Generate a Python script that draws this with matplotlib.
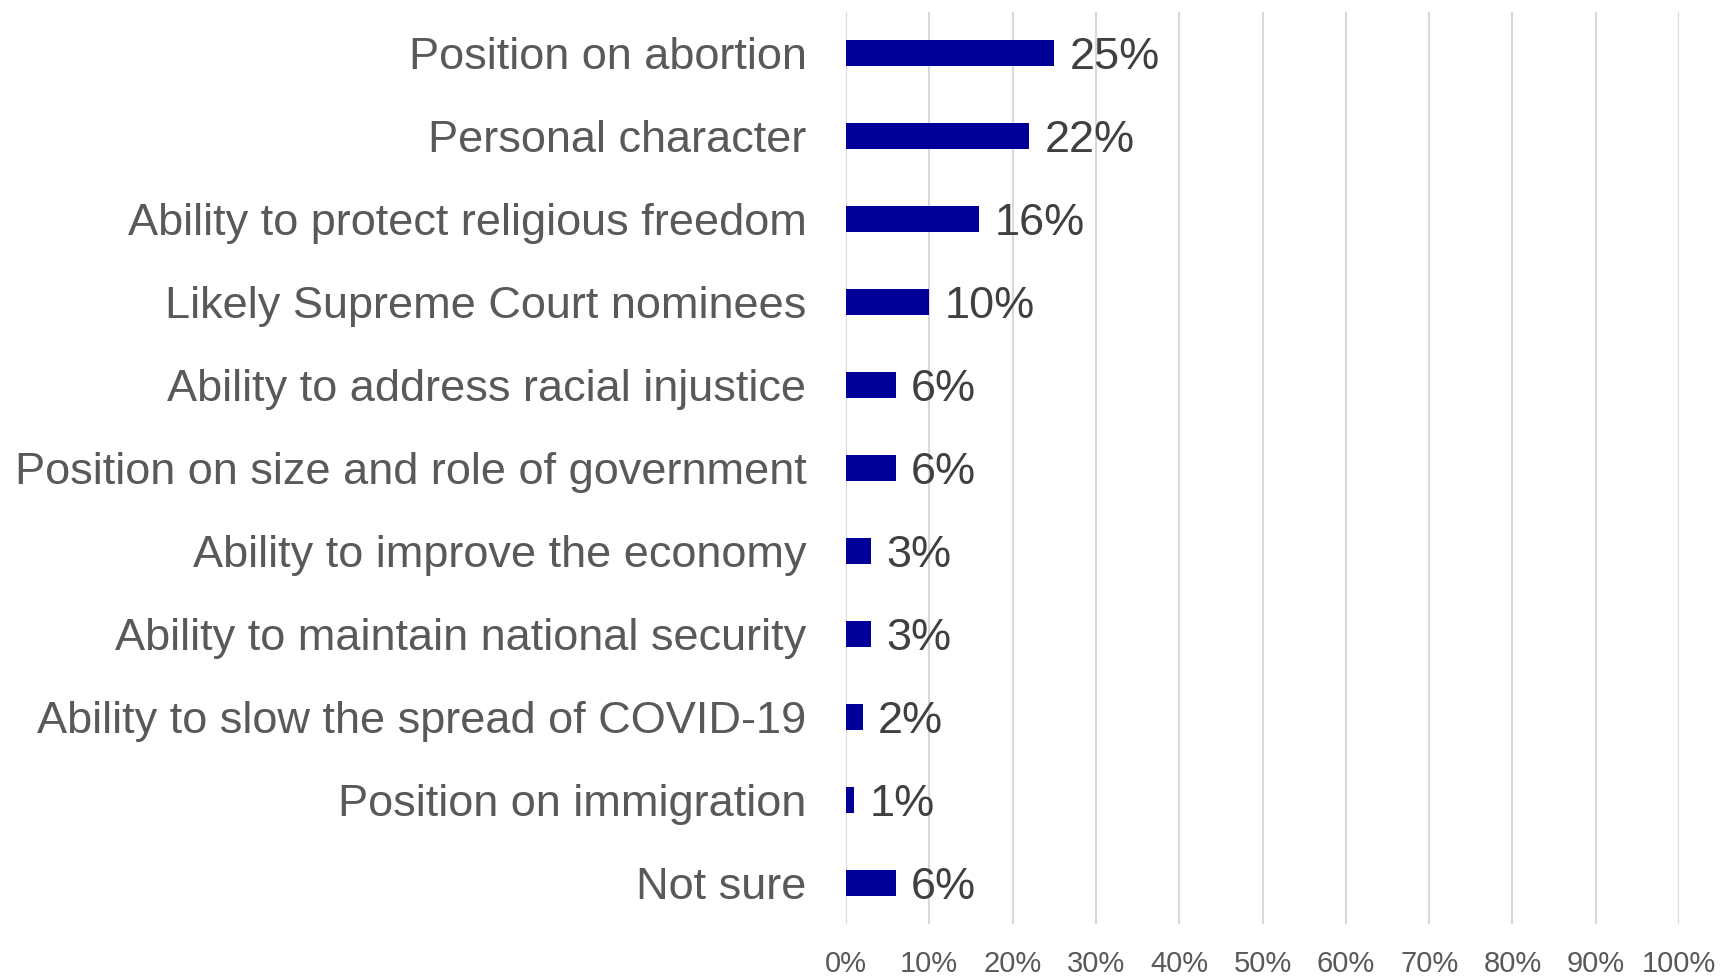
import matplotlib
matplotlib.use("Agg")
import matplotlib.pyplot as plt
import numpy as np

plt.rcParams["font.family"] = ["Liberation Sans", "DejaVu Sans"]

categories = [
    "Position on abortion",
    "Personal character",
    "Ability to protect religious freedom",
    "Likely Supreme Court nominees",
    "Ability to address racial injustice",
    "Position on size and role of government",
    "Ability to improve the economy",
    "Ability to maintain national security",
    "Ability to slow the spread of COVID-19",
    "Position on immigration",
    "Not sure",
]
values = [25, 22, 16, 10, 6, 6, 3, 3, 2, 1, 6]
x_ticks = list(range(0, 101, 10))
x_tick_labels = [f"{t}%" for t in x_ticks]

fig = plt.figure(figsize=(17.23, 9.76), dpi=100)
ax = fig.add_axes([0.491, 0.0528, 0.4835, 0.9354])

y = np.arange(len(categories))
ax.barh(y, values, height=0.31, color="#000099", zorder=3)

# value labels just right of each bar, nudged down a touch
for yi, v in zip(y, values):
    ax.annotate(f"{v}%", (v, yi), xytext=(10.8, -3), textcoords="offset points",
                va="center", ha="left", fontsize=32.5, color="#404040")

ax.set_xlim(0, 100)
ax.set_ylim(len(categories) - 0.5, -0.5)
ax.set_yticks(y)
ax.set_yticklabels(categories)
ax.set_xticks(x_ticks)
ax.set_xticklabels(x_tick_labels)
ax.tick_params(axis="y", length=0, pad=28.5, labelsize=32.5, labelcolor="#595959")
ax.tick_params(axis="x", length=0, pad=18.5, labelsize=21, labelcolor="#595959")
ax.grid(axis="x", color="#d9d9d9", lw=1.5, zorder=0)
for s in ax.spines.values():
    s.set_visible(False)

fig.savefig("out.png", dpi=100)
